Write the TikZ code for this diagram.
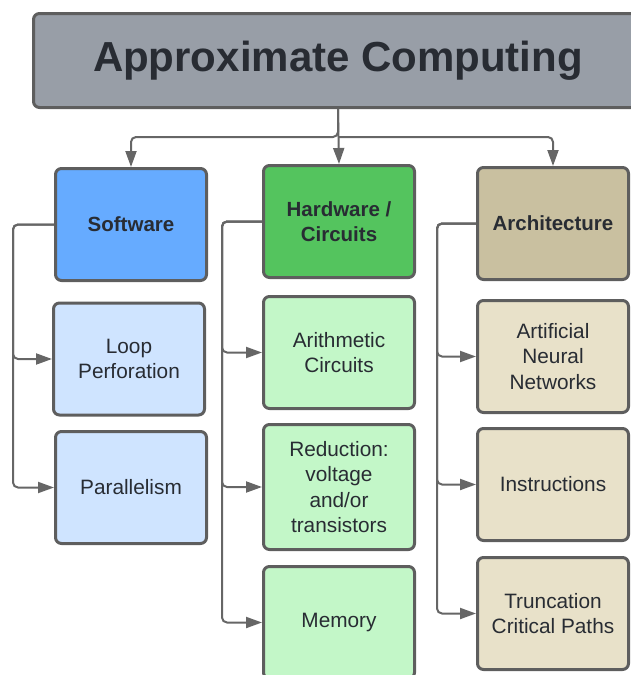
\documentclass[tikz,border=0pt]{standalone}
\usepackage{fontspec}
\setmainfont{Liberation Sans}
\usetikzlibrary{arrows.meta}
\definecolor{titlefill}{HTML}{989EA7}
\definecolor{swdark}{HTML}{66ABFF}
\definecolor{swlight}{HTML}{CFE4FF}
\definecolor{hwdark}{HTML}{54C45E}
\definecolor{hwlight}{HTML}{C3F7C8}
\definecolor{ardark}{HTML}{C9C0A0}
\definecolor{arlight}{HTML}{E8E1C9}
\definecolor{bordc}{HTML}{5E5E5E}
\definecolor{connc}{HTML}{666666}
\definecolor{textc}{HTML}{282C33}
\tikzset{
  box/.style={draw=bordc, line width=3pt, rounded corners=6pt, align=center,
    text=textc, minimum width=151pt, minimum height=112pt, inner sep=2pt,
    font=\fontsize{20.8}{25.3}\selectfont},
  headbox/.style={box, font=\fontsize{20.5}{25.3}\selectfont\bfseries},
  conn/.style={draw=connc, line width=2pt, rounded corners=5pt,
    -{Triangle[length=16pt,width=11pt]}},
}
\begin{document}
\begin{tikzpicture}[x=1pt,y=-1pt]
\useasboundingbox (0,0) rectangle (631,675);
\clip (0,0) rectangle (631,675);
% title
\node[draw=bordc, line width=3pt, rounded corners=6pt, fill=titlefill, text=textc,
  minimum width=609pt, minimum height=94pt, font=\fontsize{42}{48}\selectfont\bfseries]
  (title) at (338,60.5) {Approximate Computing};
% software column
\node[headbox, fill=swdark] (sw) at (131,224.5) {Software};
\node[box, fill=swlight] (lp) at (129,359) {Loop\\Perforation};
\node[box, fill=swlight] (pa) at (131,487.5) {Parallelism};
% hardware column
\node[headbox, fill=hwdark] (hw) at (339,221.5) {Hardware /\\Circuits};
\node[box, fill=hwlight] (ac) at (339,352.5) {Arithmetic\\Circuits};
\node[box, fill=hwlight, minimum height=125pt] (rd) at (339,487) {Reduction:\\voltage\\and/or\\transistors};
\node[box, fill=hwlight] (me) at (339,622.5) {Memory};
% architecture column
\node[headbox, fill=ardark] (ar) at (553,223.5) {Architecture};
\node[box, fill=arlight] (an) at (553,356.5) {Artificial\\Neural\\Networks};
\node[box, fill=arlight] (in) at (553,484.5) {Instructions};
\node[box, fill=arlight] (tr) at (553,613.5) {Truncation\\Critical Paths};
% top connectors
\coordinate (j) at (338,137);
\draw[conn] (title.south) -- (j) -| (sw.north);
\draw[conn] (j) -| (ar.north);
\draw[conn] (title.south) -- (hw.north);
% column connectors
\coordinate (swx) at (13,0);
\coordinate (hwx) at (222,0);
\coordinate (arx) at (437,0);
\draw[conn] (sw.west) -- (sw.west -| swx) |- (pa.west);
\draw[conn] (sw.west) -- (sw.west -| swx) |- (lp.west);
\draw[conn] (hw.west) -- (hw.west -| hwx) |- (me.west);
\draw[conn] (hw.west) -- (hw.west -| hwx) |- (rd.west);
\draw[conn] (hw.west) -- (hw.west -| hwx) |- (ac.west);
\draw[conn] (ar.west) -- (ar.west -| arx) |- (tr.west);
\draw[conn] (ar.west) -- (ar.west -| arx) |- (in.west);
\draw[conn] (ar.west) -- (ar.west -| arx) |- (an.west);
\end{tikzpicture}
\end{document}
